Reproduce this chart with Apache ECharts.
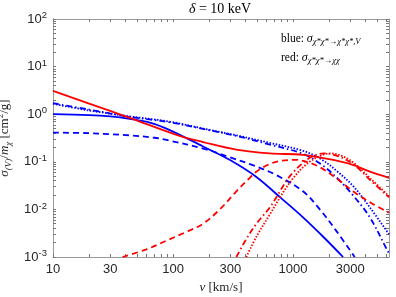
<!DOCTYPE html>
<html>
<head>
<meta charset="utf-8">
<script src="https://cdn.jsdelivr.net/npm/echarts@6/dist/echarts.min.js"></script>
<style>html,body{margin:0;padding:0;background:#fff}#c{width:396px;height:297px}</style>
</head>
<body>
<div id="c"></div>
<script>
// ---- data (v in km/s, sigma/m in cm^2/g) ----
const xTickLabels = [10, 30, 100, 300, 1000, 3000];
const xTicks = [10,20,30,40,50,60,70,80,90,100,200,300,400,500,600,700,800,900,1000,2000,3000,4000,5000,6000];
const yTickLabels = [0.001, 0.01, 0.1, 1, 10, 100];

const vBlueSolid = [10, 20, 30, 43.5, 65, 93, 178, 296, 495, 800, 1211, 1800, 2610];
const sBlueSolid = [1.0, 0.96, 0.9, 0.8, 0.66, 0.47, 0.21, 0.11, 0.048, 0.017, 0.0068, 0.0026, 0.001];

const vBlueDashed = [10, 20, 30, 43.5, 70, 93, 178, 296, 450, 700, 1211, 1700, 2300, 3265];
const sBlueDashed = [0.41, 0.40, 0.38, 0.36, 0.32, 0.28, 0.19, 0.125, 0.087, 0.055, 0.024, 0.0095, 0.0035, 0.001];

const vBlueDotted = [10, 20, 43.5, 93, 178, 337, 640, 1211, 1700, 2300, 3200, 4365, 6300];
const sBlueDotted = [1.65, 1.2, 0.9, 0.7, 0.5, 0.36, 0.25, 0.17, 0.115, 0.065, 0.03, 0.011, 0.003];

const vBlueDashDot = [10, 20, 43.5, 93, 178, 337, 640, 1211, 1700, 2300, 3200, 4365, 6000, 6300];
const sBlueDashDot = [1.7, 1.25, 0.88, 0.68, 0.49, 0.35, 0.23, 0.147, 0.09, 0.047, 0.019, 0.0068, 0.0015, 0.0012];

const vRedSolid = [10, 20, 43.5, 113, 178, 337, 640, 1211, 2300, 3200, 4365, 6300];
const sRedSolid = [3.1, 1.67, 0.84, 0.35, 0.26, 0.18, 0.15, 0.14, 0.106, 0.085, 0.062, 0.046];

const vRedDashed = [38, 60, 88, 130, 178, 250, 337, 420, 495, 640, 800, 1050, 1300, 1670, 2300, 3160, 4400, 6300];
const sRedDashed = [0.001, 0.00145, 0.0022, 0.0034, 0.005, 0.0105, 0.024, 0.042, 0.062, 0.09, 0.105, 0.11, 0.1, 0.077, 0.045, 0.024, 0.014, 0.0085];

const vRedDashDot = [337, 400, 495, 640, 778, 881, 1000, 1211, 1450, 1800, 2300, 3160, 4365, 6300];
const sRedDashDot = [0.001, 0.0022, 0.005, 0.011, 0.024, 0.04, 0.06, 0.095, 0.13, 0.15, 0.135, 0.09, 0.042, 0.018];

const vRedDotted = [408, 500, 640, 800, 1000, 1300, 1700, 2100, 2600, 3200, 4400, 6300];
const sRedDotted = [0.001, 0.0028, 0.0078, 0.02, 0.045, 0.09, 0.135, 0.15, 0.13, 0.095, 0.045, 0.019];

// ---- build ----
const L = Math.log10;
const yTicks = [];
for (let e = -3; e < 2; e++) for (let k = 1; k <= 9; k++) yTicks.push(k * Math.pow(10, e));
yTicks.push(100);

const BLUE = '#0000ff', RED = '#ff0000';
const pts = (v, s) => v.map((x, i) => [L(x), L(s[i])]);
const DASH = [6, 4], DOT = [1.5, 1.6], DASHDOT = [6, 3, 1.5, 3];
function mk(v, s, color, type) {
  return { type: 'line', data: pts(v, s), showSymbol: false, smooth: 0.35, clip: true,
    lineStyle: { color: color, width: 1.8, type: type }, z: 3 };
}

const serif = 'Liberation Serif';
const sans = 'Liberation Sans';
const axisColor = '#9a9a9a';

function xAx(pos, labels) {
  return {
    type: 'value', min: 1, max: L(6300), position: pos,
    axisLine: { show: true, onZero: false, lineStyle: { color: axisColor, width: 1 } },
    axisTick: { show: true, inside: true, length: 3, customValues: xTicks.map(L), lineStyle: { color: '#777' } },
    axisLabel: { show: labels, customValues: xTickLabels.map(L), margin: 6,
      formatter: v => String(Math.round(Math.pow(10, v))),
      color: '#262626', fontFamily: sans, fontSize: 13 },
    splitLine: { show: false },
    name: labels ? '{i|v}{n| [km/s]}' : '', nameLocation: 'middle', nameGap: 22,
    nameTextStyle: { color: '#262626', fontFamily: serif, fontSize: 13,
      rich: { i: { fontStyle: 'italic', fontFamily: serif, fontSize: 13 }, n: { fontFamily: serif, fontSize: 13 } } }
  };
}
function yAx(pos, labels) {
  return {
    type: 'value', min: -3, max: 2, position: pos,
    axisLine: { show: true, onZero: false, lineStyle: { color: axisColor, width: 1 } },
    axisTick: { show: true, inside: true, length: 3, customValues: yTicks.map(L), lineStyle: { color: '#777' } },
    axisLabel: { show: labels, customValues: yTickLabels.map(L), margin: 6,
      formatter: v => '{b|10}{e|' + Math.round(v) + '}',
      rich: { b: { fontFamily: sans, fontSize: 13, lineHeight: 17, color: '#262626' },
              e: { fontFamily: sans, fontSize: 9.5, lineHeight: 11, verticalAlign: 'top', color: '#262626' } } },
    splitLine: { show: false },
    name: labels ? '{i|σ}{s|(V)}{n|/}{i|m}{s|χ}{n| [cm}{p|2}{n|/g]}' : '',
    nameLocation: 'middle', nameGap: 29,
    nameTextStyle: { color: '#262626', fontFamily: serif, fontSize: 13,
      rich: { i: { fontStyle: 'italic', fontFamily: serif, fontSize: 13, lineHeight: 17 },
              n: { fontFamily: serif, fontSize: 13, lineHeight: 17 },
              s: { fontFamily: serif, fontSize: 9, lineHeight: 10, verticalAlign: 'bottom', fontStyle: 'italic' },
              p: { fontFamily: serif, fontSize: 9, lineHeight: 10, verticalAlign: 'top' } } }
  };
}

const chart = echarts.init(document.getElementById('c'), null, { renderer: 'canvas' });
chart.setOption({
  animation: false,
  backgroundColor: '#fff',
  grid: { left: 53, right: 7, top: 19, bottom: 40, containLabel: false, outerBoundsMode: 'none' },
  xAxis: [xAx('bottom', true), xAx('top', false)],
  yAxis: [yAx('left', true), yAx('right', false)],
  graphic: [
    { type: 'text', z: 10, style: { x: 220, y: 9, align: 'center', verticalAlign: 'middle',
        text: '{i|δ}{n| = 10 keV}',
        rich: { i: { fontStyle: 'italic', fontFamily: serif, fontSize: 14, lineHeight: 16 },
                n: { fontFamily: serif, fontSize: 14, lineHeight: 16 } }, fill: '#000' } },
    { type: 'text', z: 10, style: { x: 281, y: 39, align: 'left', verticalAlign: 'middle',
        text: '{n|blue: }{i|σ}{s|χ*χ*→χ*χ*,V}',
        rich: { n: { fontFamily: serif, fontSize: 11.5, lineHeight: 15, fill: '#000' },
                i: { fontFamily: serif, fontSize: 12, fontStyle: 'italic', lineHeight: 15, fill: '#000' },
                s: { fontFamily: serif, fontSize: 8.5, fontStyle: 'italic', lineHeight: 10, verticalAlign: 'bottom', fill: '#000' } } } },
    { type: 'text', z: 10, style: { x: 281, y: 58, align: 'left', verticalAlign: 'middle',
        text: '{n|red: }{i|σ}{s|χ*χ*→χχ}',
        rich: { n: { fontFamily: serif, fontSize: 11.5, lineHeight: 15, fill: '#000' },
                i: { fontFamily: serif, fontSize: 12, fontStyle: 'italic', lineHeight: 15, fill: '#000' },
                s: { fontFamily: serif, fontSize: 8.5, fontStyle: 'italic', lineHeight: 10, verticalAlign: 'bottom', fill: '#000' } } } }
  ],
  series: [
    mk(vBlueSolid, sBlueSolid, BLUE, 'solid'),
    mk(vBlueDashed, sBlueDashed, BLUE, DASH),
    mk(vBlueDotted, sBlueDotted, BLUE, DOT),
    mk(vBlueDashDot, sBlueDashDot, BLUE, DASHDOT),
    mk(vRedSolid, sRedSolid, RED, 'solid'),
    mk(vRedDashed, sRedDashed, RED, DASH),
    mk(vRedDashDot, sRedDashDot, RED, DASHDOT),
    mk(vRedDotted, sRedDotted, RED, DOT)
  ]
});
</script>
</body>
</html>
